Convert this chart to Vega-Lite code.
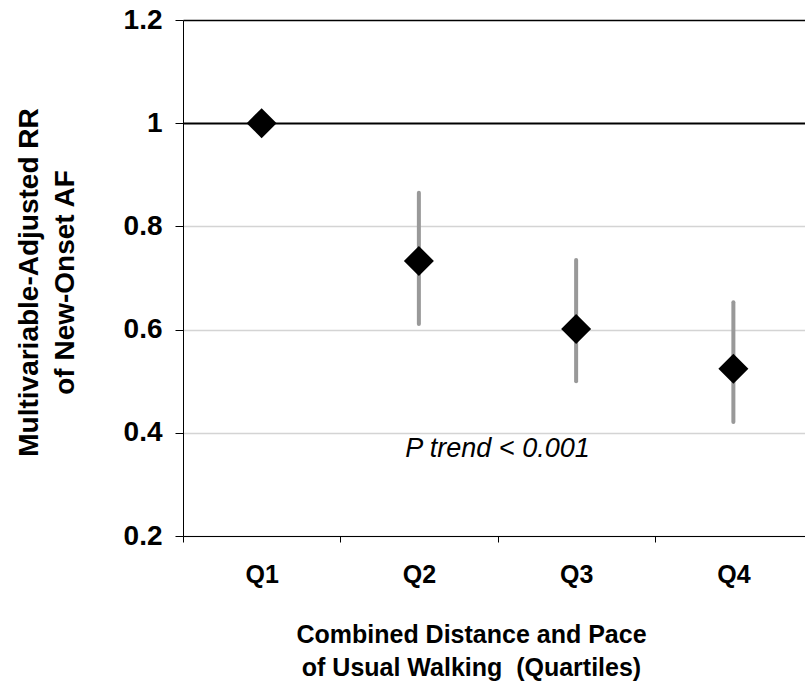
{
  "$schema": "https://vega.github.io/schema/vega-lite/v6.json",
  "autosize": "none",
  "width": 622,
  "height": 516,
  "padding": {"left": 183, "top": 20, "right": 0, "bottom": 150},
  "background": "white",
  "config": {
    "view": {"stroke": null},
    "font": "Liberation Sans",
    "axis": {"labelFont": "Liberation Sans", "titleFont": "Liberation Sans"}
  },
  "data": {
    "values": [
      {"q": "Q1", "rr": 1.0, "lo": null, "hi": null},
      {"q": "Q2", "rr": 0.733, "lo": 0.611, "hi": 0.865},
      {"q": "Q3", "rr": 0.601, "lo": 0.500, "hi": 0.735},
      {"q": "Q4", "rr": 0.524, "lo": 0.421, "hi": 0.653}
    ]
  },
  "encoding": {
    "x": {
      "field": "q",
      "type": "nominal",
      "sort": ["Q1", "Q2", "Q3", "Q4"],
      "scale": {"range": [0, 629], "paddingInner": 0, "paddingOuter": 0},
      "axis": {
        "title": ["Combined Distance and Pace", "of Usual Walking \u00a0(Quartiles)"],
        "titleFontSize": 25,
        "titleFontWeight": "bold",
        "titleLineHeight": 33,
        "titleX": 288,
        "titleY": 106,
        "titleBaseline": "alphabetic",
        "titleAnchor": "middle",
        "labelAngle": 0,
        "labelFontSize": 25,
        "labelFontWeight": "bold",
        "labelColor": "black",
        "labelPadding": 20,
        "tickBand": "extent",
        "tickSize": 6,
        "tickColor": "black",
        "domainColor": "black",
        "domainWidth": 1,
        "grid": false
      }
    }
  },
  "layer": [
    {
      "mark": {"type": "rule", "color": "#999999", "strokeWidth": 4, "strokeCap": "round"},
      "encoding": {
        "y": {"field": "lo", "type": "quantitative"},
        "y2": {"field": "hi"}
      }
    },
    {
      "mark": {"type": "point", "shape": "diamond", "filled": true, "color": "black", "size": 900, "opacity": 1},
      "encoding": {
        "y": {
          "field": "rr",
          "type": "quantitative",
          "scale": {"domain": [0.2, 1.2], "nice": false, "zero": false},
          "axis": {
            "values": [0.2, 0.4, 0.6, 0.8, 1.0, 1.2],
            "labelExpr": "format(datum.value, '~g')",
            "labelFontSize": 28,
            "labelFontWeight": "bold",
            "labelColor": "black",
            "labelPadding": 13,
            "tickSize": 8,
            "tickColor": "black",
            "domainColor": "black",
            "grid": true,
            "gridColor": {"condition": {"test": "datum.value >= 1", "value": "black"}, "value": "#d4d4d4"},
            "gridWidth": {"condition": {"test": "datum.value == 1", "value": 2}, "value": 1.5},
            "title": ["Multivariable-Adjusted RR", "of New-Onset AF"],
            "titleFontSize": 28,
            "titleFontWeight": "bold",
            "titleLineHeight": 36,
            "titleAngle": -90,
            "titleX": -146,
            "titleY": 262,
            "titleBaseline": "alphabetic",
            "titleAlign": "center"
          }
        }
      }
    },
    {
      "data": {"values": [{"q": "Q2", "y": 0.353, "label": "P trend < 0.001"}]},
      "mark": {"type": "text", "fontSize": 27, "fontStyle": "italic", "color": "black", "align": "center", "baseline": "alphabetic"},
      "encoding": {
        "x": {"field": "q", "type": "nominal", "bandPosition": 1},
        "y": {"field": "y", "type": "quantitative"},
        "text": {"field": "label"}
      }
    }
  ]
}
